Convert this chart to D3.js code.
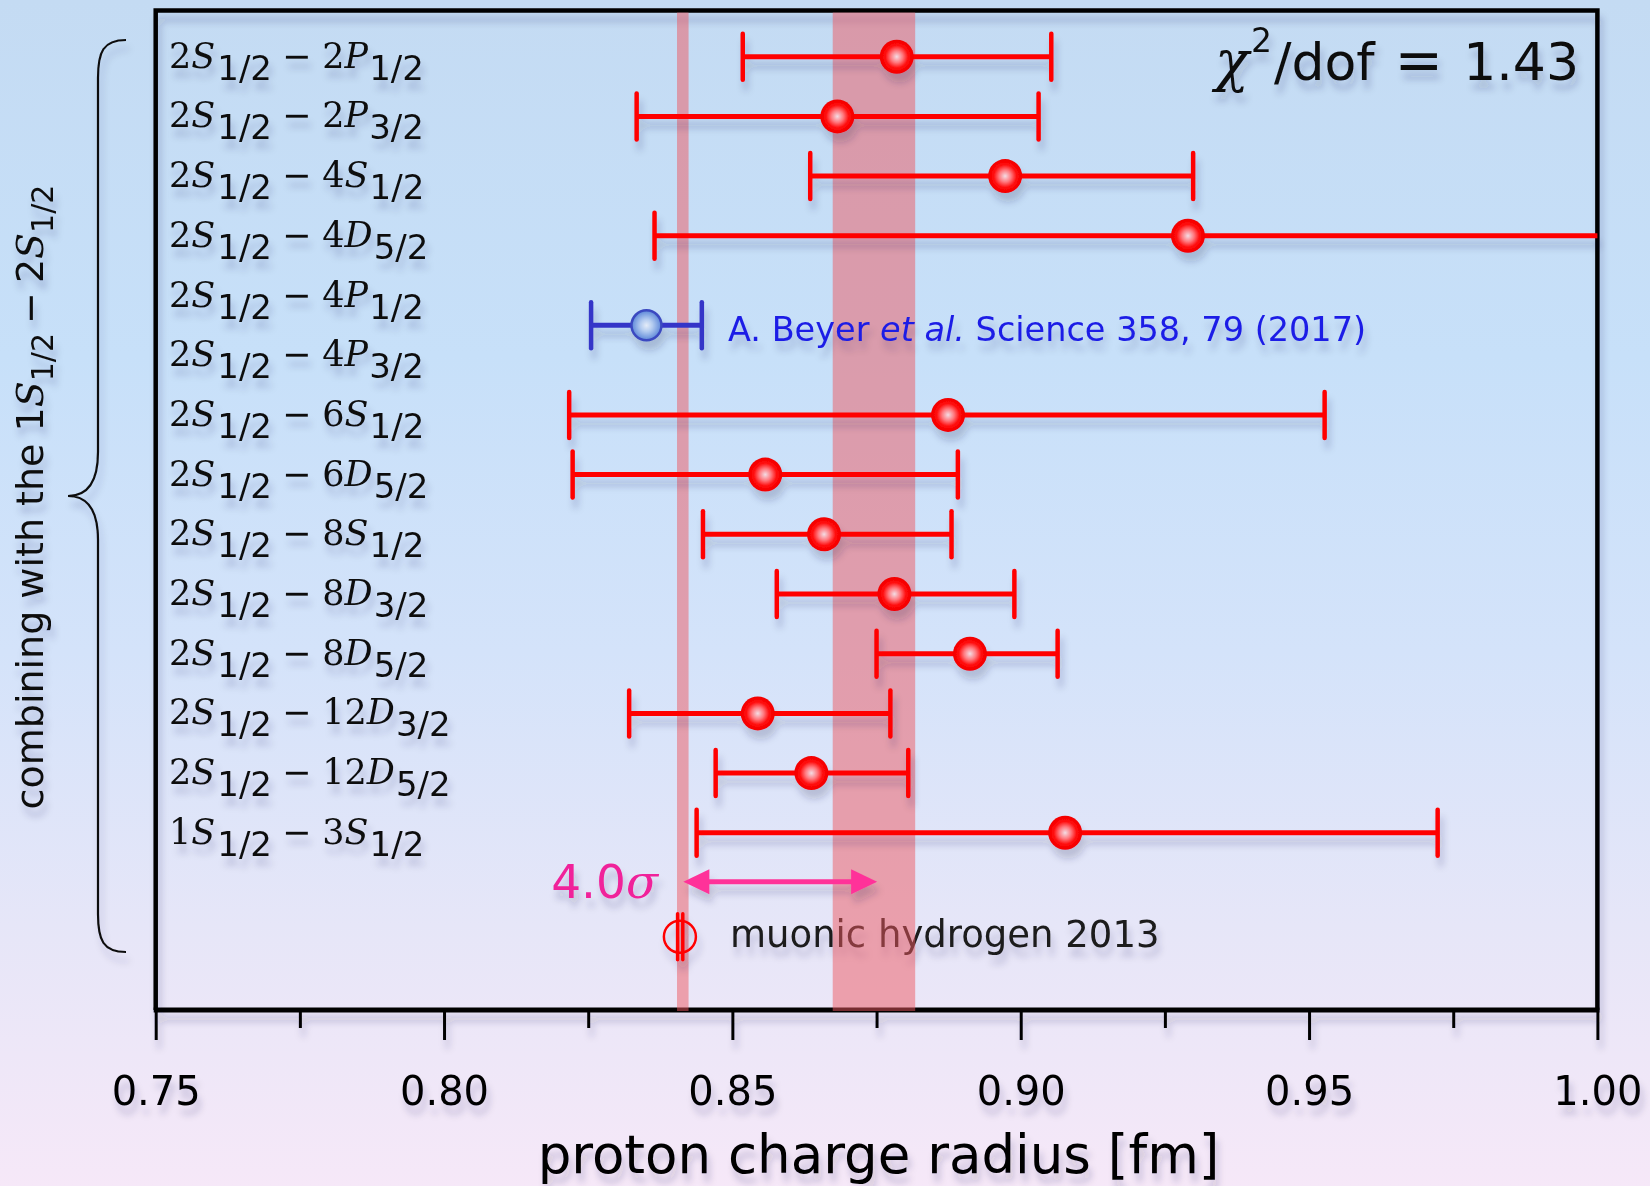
<!DOCTYPE html>
<html>
<head>
<meta charset="utf-8">
<script src="https://cdn.jsdelivr.net/npm/d3@7"></script>
<style>
  html, body { margin: 0; padding: 0; overflow: hidden; }
  svg { display: block; }
</style>
</head>
<body>
<svg id="chart"></svg>
<script>
// transitions, each one combined with 1S-2S
const upperLevel = ["2S","2S","2S","2S","2S","2S","2S","2S","2S","2S","2S","2S","2S","1S"]
const upperJ     = ["1/2","1/2","1/2","1/2","1/2","1/2","1/2","1/2","1/2","1/2","1/2","1/2","1/2","1/2"]
const lowerLevel = ["2P","2P","4S","4D","4P","4P","6S","6D","8S","8D","8D","12D","12D","3S"]
const lowerJ     = ["1/2","3/2","1/2","5/2","1/2","3/2","1/2","5/2","1/2","3/2","5/2","3/2","5/2","1/2"]

// proton radius [fm], lower / upper end of the error bar (null = no point)
const radius   = [0.8785,0.8682,0.8973,0.9290,null,null,0.8874,0.8557,0.8659,0.8781,0.8912,0.8544,0.8637,0.9077]
const radiusLo = [0.8518,0.8334,0.8635,0.8365,null,null,0.8217,0.8223,0.8449,0.8577,0.8750,0.8321,0.8471,0.8438]
const radiusHi = [0.9053,0.9031,0.9299,1.0215,null,null,0.9527,0.8891,0.8880,0.8989,0.9064,0.8774,0.8805,0.9723]

// 2S-4P (Beyer 2017), drawn between the two 4P rows
const beyerRow = 4.5
const beyerR = [0.8351, 0.8255, 0.8447]   // value, lo, hi
const beyerLabel = ["A. Beyer ", "et al.", " Science 358, 79 (2017)"]

// muonic hydrogen
const muonicRow = 14.74
const muonicR = [0.8409, 0.8405, 0.8414]
const muonicBand = [0.8404, 0.8424]
const hydrogenBand = [0.8674, 0.8817]
const sigmaRow = 13.82
const sigmaArrow = [0.8415, 0.8751]

const majorTicks = [0.75, 0.80, 0.85, 0.90, 0.95, 1.00]
const minorTicks = [0.775, 0.825, 0.875, 0.925, 0.975]

const W = 1650, H = 1186
const plot = { left: 155.7, right: 1597.4, top: 10.5, bottom: 1010 }
const serif = "DejaVu Serif", sans = "DejaVu Sans"

const svg = d3.select("#chart").attr("width", W).attr("height", H)
const defs = svg.append("defs")

// page background
const bg = defs.append("linearGradient").attr("id", "bg").attr("x1", 0).attr("y1", 0).attr("x2", 0).attr("y2", 1)
;[[0,"rgb(196,219,243)"],[0.3,"rgb(199,224,249)"],[0.55,"rgb(212,227,250)"],[0.78,"rgb(230,230,248)"],[1,"rgb(246,232,248)"]]
  .forEach(s => bg.append("stop").attr("offset", s[0]).attr("stop-color", s[1]))

const redBall = defs.append("radialGradient").attr("id", "redBall").attr("cx", "50%").attr("cy", "50%").attr("r", "50%")
;[[0,"#f4dce4"],[0.35,"#ff7a80"],[0.68,"#ff0a0a"],[1,"#f20000"]]
  .forEach(s => redBall.append("stop").attr("offset", s[0]).attr("stop-color", s[1]))
const blueBall = defs.append("radialGradient").attr("id", "blueBall").attr("cx", "50%").attr("cy", "50%").attr("r", "50%")
;[[0,"#e4ecf8"],[0.4,"#b4ccf0"],[1,"#5b86d8"]]
  .forEach(s => blueBall.append("stop").attr("offset", s[0]).attr("stop-color", s[1]))

const shadow = defs.append("filter").attr("id", "shadow").attr("x", "-20%").attr("y", "-20%").attr("width", "140%").attr("height", "140%")
shadow.append("feDropShadow").attr("dx", 3).attr("dy", 9).attr("stdDeviation", 3.5)
  .attr("flood-color", "#1c2c50").attr("flood-opacity", 0.2)

defs.append("clipPath").attr("id", "plotClip").append("rect")
  .attr("x", plot.left).attr("y", plot.top).attr("width", plot.right - plot.left).attr("height", plot.bottom - plot.top)

svg.append("rect").attr("width", W).attr("height", H).attr("fill", "url(#bg)")

const x = d3.scaleLinear().domain([0.75, 1.00]).range([plot.left, plot.right])
const y = d3.scaleLinear().domain([0, 13]).range([56.7, 832.8])

const g = svg.append("g").attr("filter", "url(#shadow)")

// frame + axis
g.append("path").attr("fill", "none").attr("stroke", "#000").attr("stroke-width", 4.5)
  .attr("d", `M${plot.left},${plot.bottom} L${plot.left},${plot.top} L${plot.right},${plot.top} L${plot.right},${plot.bottom}`)

const axisMajor = g.append("g").attr("transform", `translate(0,${plot.bottom})`)
  .call(d3.axisBottom(x).tickValues(majorTicks).tickSize(30).tickPadding(37).tickFormat(d3.format(".2f")))
axisMajor.select(".domain").remove()
axisMajor.selectAll(".tick line").attr("stroke", "#000").attr("stroke-width", 3)
axisMajor.selectAll(".tick text").attr("font-family", sans).attr("font-size", 40).attr("fill", "#000")

const axisMinor = g.append("g").attr("transform", `translate(0,${plot.bottom})`)
  .call(d3.axisBottom(x).tickValues(minorTicks).tickSize(18).tickFormat(""))
axisMinor.select(".domain").remove()
axisMinor.selectAll(".tick line").attr("stroke", "#000").attr("stroke-width", 3)

g.append("line").attr("x1", plot.left - 2).attr("x2", plot.right + 2).attr("y1", plot.bottom).attr("y2", plot.bottom)
  .attr("stroke", "#000").attr("stroke-width", 5)

g.append("text").attr("x", (plot.left + plot.right) / 2 + 2).attr("y", 1173)
  .attr("text-anchor", "middle").attr("font-family", sans).attr("font-size", 53)
  .text("proton charge radius [fm]")

// muonic hydrogen label sits under the bands
g.append("text").attr("x", 730).attr("y", 947).attr("font-family", sans).attr("font-size", 37).attr("fill", "#1a1a1a")
  .text("muonic hydrogen 2013")

// bands
svg.append("g").selectAll("rect").data([muonicBand, hydrogenBand]).join("rect")
  .attr("x", d => x(d[0])).attr("width", d => x(d[1]) - x(d[0]))
  .attr("y", plot.top + 2).attr("height", plot.bottom + 1 - plot.top - 2)
  .attr("fill", "rgb(238,88,96)").attr("opacity", 0.5)

const g2 = svg.append("g").attr("filter", "url(#shadow)")

// row labels
const rows = d3.range(upperLevel.length)
const labels = g2.append("g").selectAll("text").data(rows).join("text")
  .attr("x", 169).attr("y", i => y(i) + 11).attr("font-size", 35).attr("fill", "#111")
labels.each(function (i) {
  const t = d3.select(this)
  const up = upperLevel[i].match(/(\d+)([A-Z])/), lo = lowerLevel[i].match(/(\d+)([A-Z])/)
  t.append("tspan").attr("font-family", serif).text(up[1])
  t.append("tspan").attr("font-family", serif).attr("font-style", "italic").text(up[2])
  t.append("tspan").attr("font-family", sans).attr("font-size", 34).attr("dy", 12).attr("dx", 2).text(upperJ[i])
  t.append("tspan").attr("font-family", sans).attr("dy", -12).attr("dx", 10).text("\u2212")
  t.append("tspan").attr("font-family", serif).attr("dx", 11).text(lo[1])
  t.append("tspan").attr("font-family", serif).attr("font-style", "italic").text(lo[2])
  t.append("tspan").attr("font-family", sans).attr("font-size", 34).attr("dy", 12).attr("dx", 1).text(lowerJ[i])
})

// error bars
const bars = g2.append("g").attr("clip-path", "url(#plotClip)")
const pts = rows.filter(i => radius[i] !== null)
const capH = 23
bars.selectAll(".bar").data(pts).join("line").attr("class", "bar")
  .attr("x1", i => x(radiusLo[i])).attr("x2", i => x(radiusHi[i]))
  .attr("y1", i => y(i)).attr("y2", i => y(i))
  .attr("stroke", "#ff0000").attr("stroke-width", 5)
bars.selectAll(".capLo").data(pts).join("line").attr("class", "capLo")
  .attr("x1", i => x(radiusLo[i])).attr("x2", i => x(radiusLo[i]))
  .attr("y1", i => y(i) - capH).attr("y2", i => y(i) + capH)
  .attr("stroke", "#ff0000").attr("stroke-width", 4.5).attr("stroke-linecap", "round")
bars.selectAll(".capHi").data(pts.filter(i => radiusHi[i] <= 1.0)).join("line").attr("class", "capHi")
  .attr("x1", i => x(radiusHi[i])).attr("x2", i => x(radiusHi[i]))
  .attr("y1", i => y(i) - capH).attr("y2", i => y(i) + capH)
  .attr("stroke", "#ff0000").attr("stroke-width", 4.5).attr("stroke-linecap", "round")
g2.append("g").selectAll("circle").data(pts).join("circle")
  .attr("cx", i => x(radius[i])).attr("cy", i => y(i)).attr("r", 17)
  .attr("fill", "url(#redBall)")

// Beyer 2017
const by = y(beyerRow)
g2.append("line").attr("x1", x(beyerR[1])).attr("x2", x(beyerR[2])).attr("y1", by).attr("y2", by)
  .attr("stroke", "#3535c8").attr("stroke-width", 5)
g2.selectAll(".bcap").data([beyerR[1], beyerR[2]]).join("line").attr("class", "bcap")
  .attr("x1", d => x(d)).attr("x2", d => x(d)).attr("y1", by - capH).attr("y2", by + capH)
  .attr("stroke", "#3535c8").attr("stroke-width", 4.5).attr("stroke-linecap", "round")
g2.append("circle").attr("cx", x(beyerR[0])).attr("cy", by).attr("r", 15)
  .attr("fill", "url(#blueBall)").attr("stroke", "#3a48c0").attr("stroke-width", 2.5)
const bt = g2.append("text").attr("x", 728).attr("y", by + 16).attr("font-family", sans).attr("font-size", 33.5).attr("fill", "#1c1ce6")
bt.append("tspan").text(beyerLabel[0])
bt.append("tspan").attr("font-style", "italic").text(beyerLabel[1])
bt.append("tspan").text(beyerLabel[2])

// muonic hydrogen point
const my = y(muonicRow)
g2.append("circle").attr("cx", x(muonicR[0])).attr("cy", my).attr("r", 16)
  .attr("fill", "none").attr("stroke", "#ff0000").attr("stroke-width", 2.5)
g2.selectAll(".mcap").data([muonicR[1], muonicR[2]]).join("line").attr("class", "mcap")
  .attr("x1", d => x(d)).attr("x2", d => x(d)).attr("y1", my - 23).attr("y2", my + 23)
  .attr("stroke", "#ff0000").attr("stroke-width", 3.5).attr("stroke-linecap", "round")

// 4.0 sigma arrow
const sy = y(sigmaRow), ax0 = x(sigmaArrow[0]), ax1 = x(sigmaArrow[1]), head = 26, hw = 12.5
const pink = "#ff3399"
g2.append("line").attr("x1", ax0 + head - 2).attr("x2", ax1 - head + 2).attr("y1", sy).attr("y2", sy)
  .attr("stroke", pink).attr("stroke-width", 5)
g2.append("path").attr("fill", pink)
  .attr("d", `M${ax0},${sy} L${ax0 + head},${sy - hw} L${ax0 + head},${sy + hw} Z M${ax1},${sy} L${ax1 - head},${sy - hw} L${ax1 - head},${sy + hw} Z`)
const st = g2.append("text").attr("x", 658).attr("y", sy + 16).attr("text-anchor", "end").attr("font-size", 47).attr("fill", "#f0209a")
st.append("tspan").attr("font-family", sans).text("4.0")
st.append("tspan").attr("font-family", serif).attr("font-style", "italic").text("\u03c3")

// chi2 / dof
const ct = g2.append("text").attr("x", 1579).attr("y", 80).attr("text-anchor", "end").attr("font-size", 52).attr("fill", "#111")
ct.append("tspan").attr("font-family", serif).attr("font-style", "italic").attr("font-size", 56).text("\u03c7")
ct.append("tspan").attr("font-family", sans).attr("font-size", 33).attr("dy", -28).attr("dx", 2).text("2")
ct.append("tspan").attr("font-family", sans).attr("dy", 28).attr("dx", 2).text("/dof")
ct.append("tspan").attr("font-family", sans).attr("font-size", 58).attr("dx", 20).text("=")
ct.append("tspan").attr("font-family", sans).attr("dx", 20).text("1.43")

// brace + rotated caption
g2.append("path").attr("fill", "none").attr("stroke", "#111").attr("stroke-width", 2.2)
  .attr("d", "M126,40 C103,40 98,52 98,78 L98,452 C98,482 88,496 68,496 C88,496 98,510 98,540 L98,914 C98,940 103,952 126,952")
const rt = g2.append("text").attr("transform", "translate(43,497) rotate(-90)").attr("text-anchor", "middle")
  .attr("font-family", sans).attr("font-size", 38).attr("fill", "#111")
rt.append("tspan").text("combining with the 1")
rt.append("tspan").attr("font-family", serif).attr("font-style", "italic").text("S")
rt.append("tspan").attr("font-size", 30).attr("dy", 10).text("1/2")
rt.append("tspan").attr("dy", -10).attr("dx", 9).text("\u2212")
rt.append("tspan").attr("dx", 9).text("2")
rt.append("tspan").attr("font-family", serif).attr("font-style", "italic").text("S")
rt.append("tspan").attr("font-size", 30).attr("dy", 10).text("1/2")
</script>
</body>
</html>
